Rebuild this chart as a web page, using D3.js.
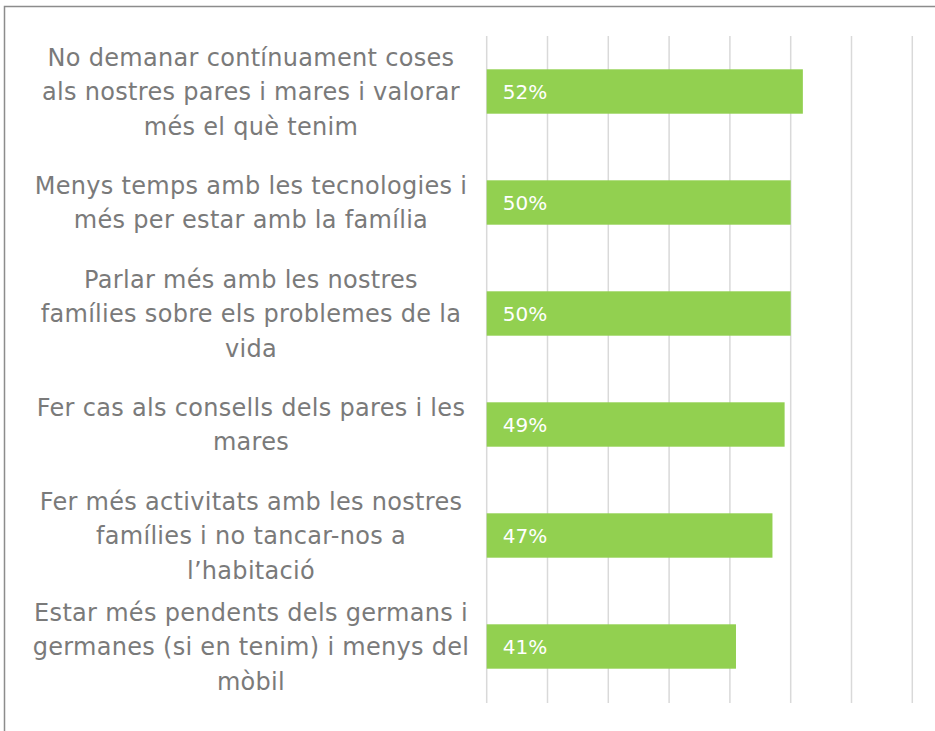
<!DOCTYPE html>
<html><head><meta charset="utf-8">
<script src="https://cdn.jsdelivr.net/npm/d3@7"></script>
<style>html,body{margin:0;padding:0;background:#fff;overflow:hidden}</style>
</head><body>
<svg id="c" width="935" height="731"></svg>
<script>
const categories = [
  ["No demanar contínuament coses", "als nostres pares i mares i valorar", "més el què tenim"],
  ["Menys temps amb les tecnologies i", "més per estar amb la família"],
  ["Parlar més amb les nostres", "famílies sobre els problemes de la", "vida"],
  ["Fer cas als consells dels pares i les", "mares"],
  ["Fer més activitats amb les nostres", "famílies i no tancar-nos a", "l’habitació"],
  ["Estar més pendents dels germans i", "germanes (si en tenim) i menys del", "mòbil"]
];
const values = [52, 50, 50, 49, 47, 41];
const gridTicks = [0, 10, 20, 30, 40, 50, 60, 70];

const svg = d3.select("#c");
svg.append("rect").attr("x",4.5).attr("y",6.5).attr("width",960).attr("height",760)
  .attr("fill","none").attr("stroke","#8c8c8c").attr("stroke-width",1.5);

const x = d3.scaleLinear().domain([0,70]).range([486.7, 912.3]);
const y = d3.scaleBand().domain(d3.range(categories.length)).range([36, 702]).paddingInner(0.6).paddingOuter(0.3);

svg.append("g").selectAll("line").data(gridTicks).join("line")
  .attr("x1",d=>x(d)).attr("x2",d=>x(d)).attr("y1",36).attr("y2",703)
  .attr("stroke","#d9d9d9").attr("stroke-width",1.5);

svg.append("g").selectAll("rect").data(values).join("rect")
  .attr("x",x(0)).attr("y",(d,i)=>y(i)).attr("width",d=>x(d)-x(0)).attr("height",y.bandwidth())
  .attr("fill","#92d050");

svg.append("g").selectAll("text").data(values).join("text")
  .attr("x",x(0)+16).attr("y",(d,i)=>y(i)+y.bandwidth()/2)
  .attr("dy","0.36em").attr("fill","#fff")
  .style("font-family","'DejaVu Sans', sans-serif").style("font-size","20px")
  .text(d=>d+"%");

const lh = 34.5;
const lg = svg.append("g");
categories.forEach((lines,i)=>{
  const cy = y(i)+y.bandwidth()/2;
  const t = lg.append("text").attr("text-anchor","middle")
    .attr("fill","#7a7a7a").style("font-family","'DejaVu Sans', sans-serif").style("font-size","24px")
    .style("letter-spacing","0.3px");
  lines.forEach((l,j)=>{
    t.append("tspan").attr("x",251).attr("y", cy + (j-(lines.length-1)/2)*lh).attr("dy","0.36em").text(l);
  });
});
</script>
</body></html>
